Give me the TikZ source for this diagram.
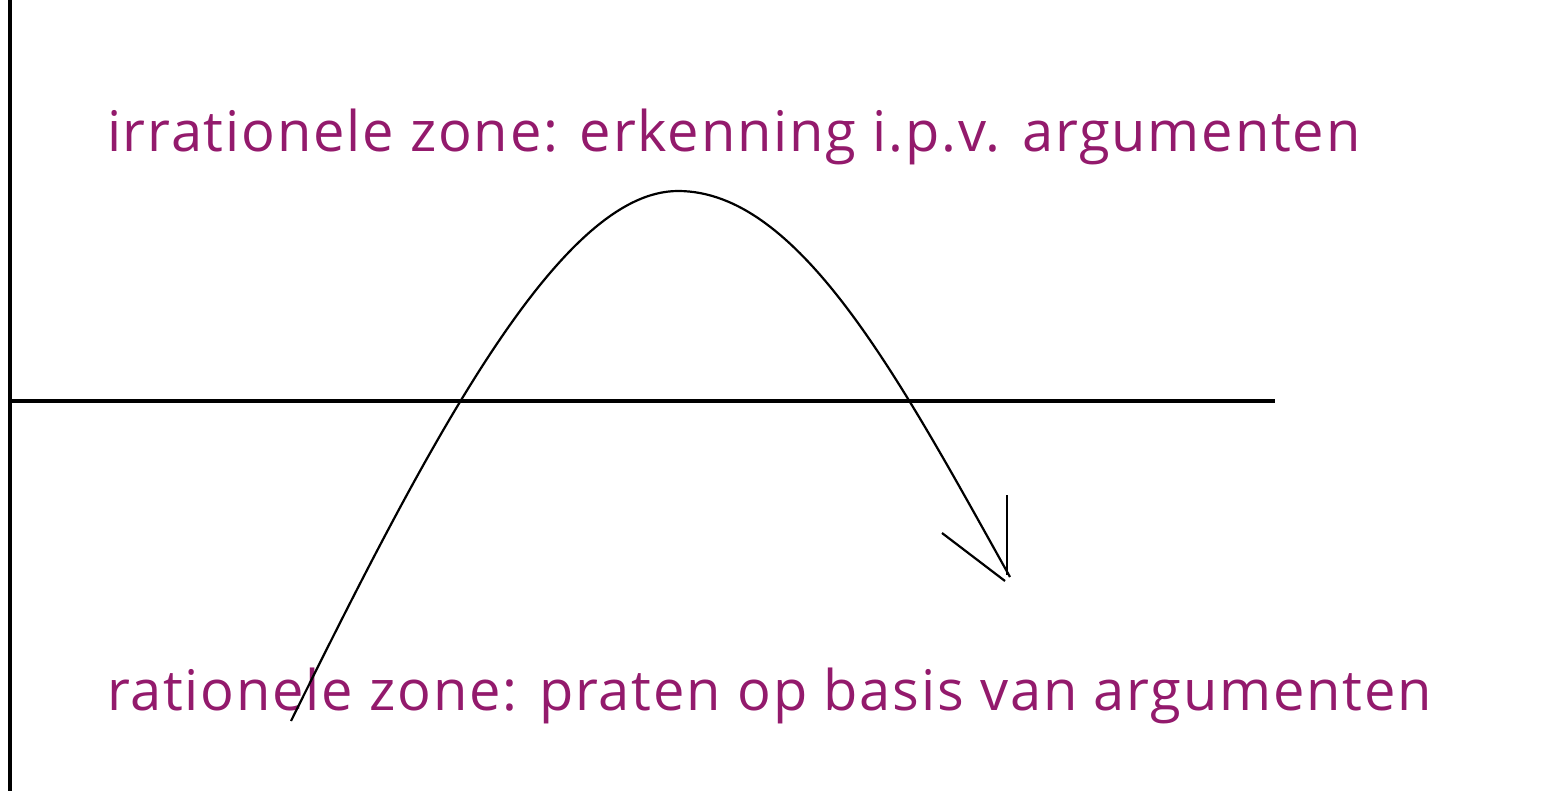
\documentclass[tikz,border=0pt]{standalone}
\usepackage{fontspec}
\setmainfont{Open Sans}
\newfontfamily\zonefont[LetterSpace=3.2]{Open Sans}
\usepackage{tikz}
\usetikzlibrary{positioning,calc}
\definecolor{ZonePurple}{HTML}{931A6C}

\begin{document}
\begin{tikzpicture}[x=0.5pt,y=-0.5pt, every node/.style={inner sep=0pt,outer sep=0pt},
  zonetext/.style={anchor=base west,text=ZonePurple,font=\zonefont\fontsize{28}{32}\selectfont},
  axisline/.style={line width=1.6pt,black},
  pathline/.style={line width=1.1pt,black}]
  \useasboundingbox (0,0) rectangle (1548,791);
  % axes
  \coordinate (ytop) at (10,0);
  \coordinate (ybot) at (10,791);
  \coordinate (xleft) at (10,401);
  \coordinate (xright) at (1275,401);
  \draw[axisline] (ytop) -- (ybot);
  \draw[axisline] (xleft) -- (xright);
  % zone labels
  \node[zonetext] (irr) at (107,152) {irrationele zone: erkenning i.p.v. argumenten};
  \node[zonetext] (rat) at (107,710) {rationele zone: praten op basis van argumenten};
  % curve over the line
  \coordinate (start) at (291,721);
  \coordinate (peak) at (678,191);
  \coordinate (tip) at (1010,577);
  \draw[pathline] (start) .. controls (430,440) and (560,191) .. (peak)
    .. controls (800,191) and (900,380) .. (tip);
  % loose arrow head
  \coordinate (headl) at (942,533);
  \coordinate (headu) at (1007,495);
  \draw[pathline] (headl) -- ($(tip)+(-5,4)$);
  \draw[axisline,line width=1.3pt] (headu) -- ($(tip)+(-3,-2)$);
\end{tikzpicture}
\end{document}
